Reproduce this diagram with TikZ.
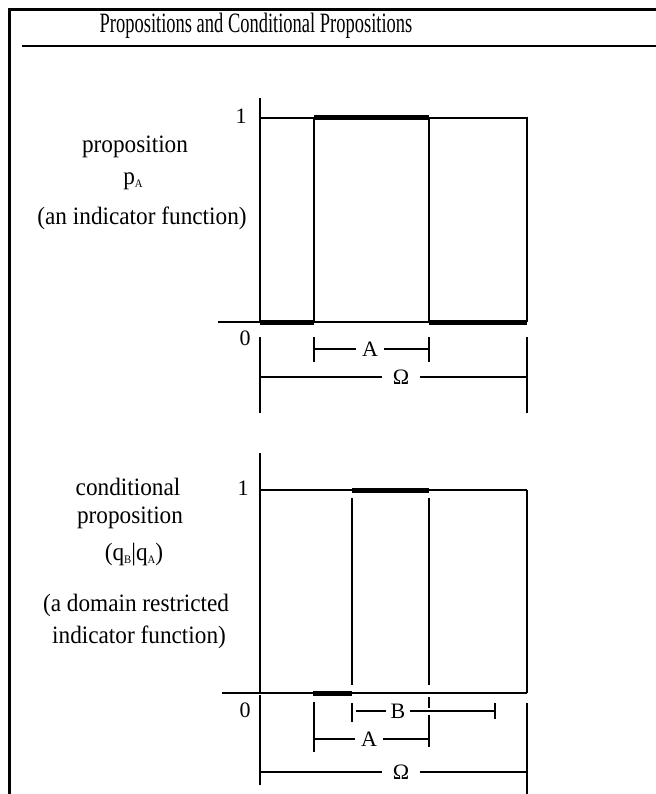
\documentclass[tikz,border=0pt]{standalone}
\usepackage{fontspec}
\setmainfont{Liberation Serif}
\newcommand{\lowsub}[1]{\raisebox{-0.25ex}{\fontsize{11.5}{12}\selectfont #1}}
\newcommand{\narrowtext}[1]{\scalebox{0.93}[1]{#1}}
\tikzset{
  plotline/.style={line width=2.1pt},
  heavy/.style={line width=5pt},
  bodytext/.style={font=\fontsize{25}{30}\selectfont, inner sep=0pt},
  vallabel/.style={font=\fontsize{22}{24}\selectfont, inner sep=0pt},
  cut/.style={fill=white, font=\fontsize{22}{24}\selectfont, inner ysep=1pt}
}
\begin{document}
\begin{tikzpicture}[x=1pt, y=-1pt]
  \useasboundingbox (0,0) rectangle (655,794);
  % Frame and title
  \draw[line width=3.5pt] (9.5,794) -- (9.5,9.5) -- (660,9.5);
  \node (title) at (256,26) {\scalebox{0.66}[1]{\fontsize{28}{32}\selectfont Propositions and Conditional Propositions}};
  \draw[line width=2.5pt] (22,46) -- (660,46);

  % ---- Proposition p_A ----
  \node[bodytext] (prop1) at (135,147) {\narrowtext{proposition}};
  \node[bodytext] (pA) at (133,181) {\narrowtext{p\lowsub{A}}};
  \node[bodytext] (indic1) at (142,218) {\narrowtext{(an indicator function)}};
  % Axes
  \draw[plotline] (260,98) -- (260,322);
  \draw[plotline] (218,322) -- (527,322);
  % Level 1 and walls
  \draw[plotline] (260,118) -- (527,118);
  \draw[plotline] (314,118) -- (314,322);
  \draw[plotline] (429,118) -- (429,322);
  \draw[plotline] (527,117) -- (527,322);
  % Function values
  \draw[heavy] (314,118) -- (429,118);
  \draw[heavy] (260,322) -- (314,322);
  \draw[heavy] (429,322) -- (527,322);
  \node[vallabel] (one1) at (241,116) {1};
  \node[vallabel] (zero1) at (245,338) {0};
  % Set A
  \draw[plotline] (314,337) -- (314,362);
  \draw[plotline] (429,337) -- (429,362);
  \draw[plotline] (314,349) -- (429,349);
  \node[cut, inner xsep=6pt] (setA1) at (370,349) {A};
  % Set Omega
  \draw[plotline] (260,337) -- (260,413);
  \draw[plotline] (527,337) -- (527,413);
  \draw[plotline] (260,377) -- (527,377);
  \node[cut, inner xsep=11pt] (omega1) at (401,377) {Ω};

  % ---- Conditional proposition (q_B|q_A) ----
  \node[bodytext] (cond2) at (128,487) {\narrowtext{conditional}};
  \node[bodytext] (prop2) at (130,518) {\narrowtext{proposition}};
  \node[bodytext] (qBA) at (134,555) {\narrowtext{(q\lowsub{B}|q\lowsub{A})}};
  \node[bodytext] (restr2) at (136,605) {\narrowtext{(a domain restricted}};
  \node[bodytext] (indic2) at (139,637) {\narrowtext{indicator function)}};
  % Axes
  \draw[plotline] (260,453) -- (260,693);
  \draw[plotline] (222,693) -- (527,693);
  % Level 1 and walls
  \draw[plotline] (260,490) -- (527,490);
  \draw[plotline] (527,490) -- (527,693);
  \draw[plotline] (352,498) -- (352,685);
  \draw[plotline] (429,498) -- (429,685);
  % Function values
  \draw[heavy] (352,490) -- (429,490);
  \draw[heavy] (313,693) -- (352,693);
  \node[vallabel] (one2) at (243,488) {1};
  \node[vallabel] (zero2) at (245,710) {0};
  % Set A
  \draw[plotline] (314,702) -- (314,752);
  \draw[plotline] (429,697) -- (429,747);
  \draw[plotline] (314,739) -- (429,739);
  \node[cut, inner xsep=6pt] (setA2) at (369,739) {A};
  % Set B
  \draw[plotline, preaction={draw=white, line width=7pt}] (356,711) -- (495,711);
  \draw[plotline] (352,703) -- (352,722);
  \draw[plotline] (495,703) -- (495,719);
  \node[cut, inner xsep=5pt] (setB2) at (398,711) {B};
  % Set Omega
  \draw[plotline] (260,695) -- (260,785);
  \draw[plotline] (527,703) -- (527,800);
  \draw[plotline] (260,772) -- (527,772);
  \node[cut, inner xsep=11pt] (omega2) at (401,772) {Ω};
\end{tikzpicture}
\end{document}
